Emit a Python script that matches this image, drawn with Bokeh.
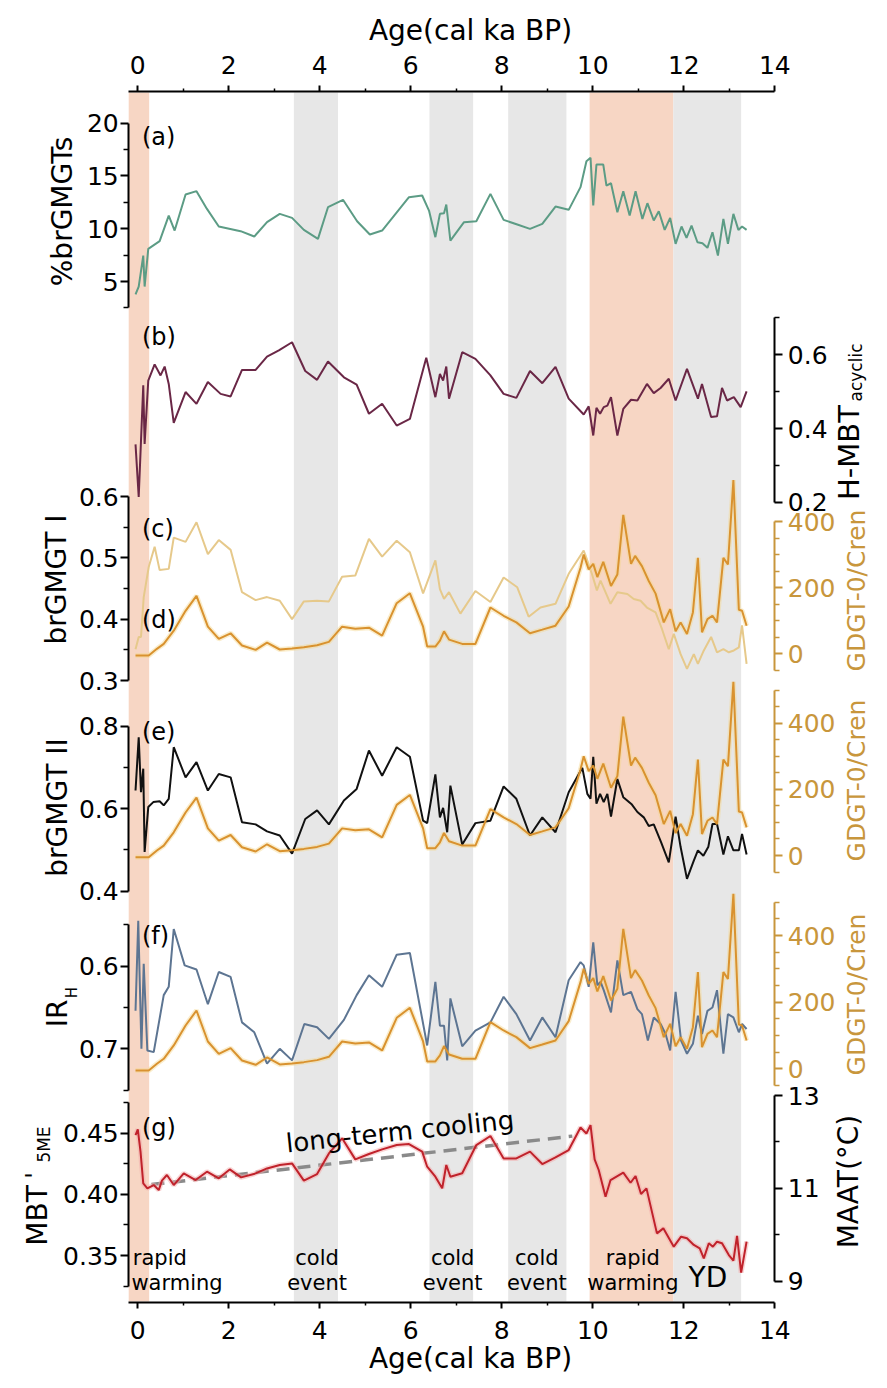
import math
from bokeh.plotting import figure
from bokeh.models import Range1d, LinearAxis, FixedTicker, BoxAnnotation, Label, PrintfTickFormatter
from bokeh.core.properties import value
from bokeh.embed import file_html
from bokeh.resources import INLINE

FONT = "DejaVu Sans"

# ---------------- data (age in cal ka BP) ----------------
age_a = [-0.05, 0.02, 0.12, 0.15, 0.23, 0.48, 0.68, 0.81, 1.05, 1.29, 1.52, 1.78, 2.26, 2.56, 2.84, 3.12,
         3.39, 3.65, 3.96, 4.18, 4.51, 4.82, 5.10, 5.37, 5.96, 6.25, 6.40, 6.54, 6.64, 6.73, 6.78, 6.87,
         7.17, 7.44, 7.75, 8.04, 8.34, 8.62, 8.89, 9.18, 9.47, 9.73, 9.86, 9.95, 10.01, 10.08, 10.23, 10.30,
         10.40, 10.54, 10.67, 10.81, 10.94, 11.09, 11.20, 11.34, 11.45, 11.58, 11.70, 11.82, 11.95, 12.06,
         12.17, 12.30, 12.41, 12.52, 12.63, 12.75, 12.87, 12.97, 13.09, 13.20, 13.28, 13.38]
pct_brgmgt = [3.77, 4.52, 7.46, 4.52, 8.09, 8.82, 11.25, 9.83, 13.24, 13.56, 11.88, 10.21, 9.77, 9.26, 10.62, 11.41,
              11.03, 9.89, 9.04, 12.04, 12.74, 10.71, 9.45, 9.83, 12.99, 13.15, 11.72, 9.20, 11.41, 11.47, 12.29, 8.88,
              10.62, 10.71, 13.30, 10.84, 10.40, 9.99, 10.46, 12.10, 11.79, 13.94, 16.40, 16.72, 12.20, 16.08, 16.08, 14.09,
              14.31, 11.57, 13.56, 11.25, 13.56, 10.93, 12.42, 10.78, 11.66, 9.89, 11.03, 8.57, 10.21, 9.13,
              10.30, 8.72, 8.63, 8.19, 9.67, 7.46, 10.93, 8.57, 11.41, 9.89, 10.21, 9.89]

age_b = [-0.05, 0.02, 0.12, 0.15, 0.23, 0.37, 0.50, 0.59, 0.68, 0.79, 1.05, 1.29, 1.54, 1.82, 2.04, 2.29,
         2.59, 2.84, 3.10, 3.39, 3.68, 3.94, 4.18, 4.53, 4.81, 5.08, 5.37, 5.69, 5.98, 6.34, 6.54, 6.64,
         6.71, 6.78, 6.84, 7.13, 7.42, 7.75, 8.04, 8.32, 8.62, 8.89, 9.18, 9.47, 9.80, 9.91, 10.01, 10.08,
         10.16, 10.24, 10.32, 10.40, 10.54, 10.67, 10.84, 10.98, 11.19, 11.34, 11.49, 11.67, 11.82, 12.07,
         12.31, 12.40, 12.60, 12.73, 12.84, 12.95, 13.10, 13.25, 13.38]
h_mbt_acyclic = [0.357, 0.214, 0.517, 0.358, 0.530, 0.574, 0.544, 0.568, 0.521, 0.415, 0.499, 0.467, 0.526, 0.494, 0.487, 0.559,
                 0.559, 0.595, 0.612, 0.634, 0.556, 0.532, 0.582, 0.539, 0.519, 0.440, 0.467, 0.408, 0.426, 0.592, 0.485, 0.548,
                 0.530, 0.568, 0.481, 0.607, 0.589, 0.544, 0.494, 0.483, 0.556, 0.523, 0.567, 0.481, 0.438, 0.460, 0.381, 0.456,
                 0.440, 0.458, 0.462, 0.485, 0.381, 0.453, 0.478, 0.476, 0.521, 0.496, 0.510, 0.535, 0.476, 0.562,
                 0.481, 0.521, 0.431, 0.433, 0.510, 0.476, 0.485, 0.458, 0.501]

age_c = [-0.05, 0.02, 0.07, 0.13, 0.24, 0.37, 0.48, 0.68, 0.79, 1.05, 1.29, 1.54, 1.78, 2.04, 2.29, 2.59,
         2.84, 3.12, 3.39, 3.65, 3.94, 4.20, 4.49, 4.78, 5.08, 5.37, 5.69, 5.98, 6.27, 6.54, 6.64, 6.73,
         6.84, 7.09, 7.42, 7.75, 8.04, 8.34, 8.59, 8.85, 9.18, 9.47, 9.80, 9.98, 10.09, 10.17, 10.39, 10.54,
         10.76, 10.90, 11.05, 11.19, 11.38, 11.52, 11.67, 11.78, 11.93, 12.07, 12.22, 12.31, 12.44, 12.60,
         12.73, 12.87, 12.99, 13.10, 13.21, 13.28, 13.38]
brgmgt_I = [0.351, 0.371, 0.371, 0.436, 0.485, 0.518, 0.480, 0.482, 0.533, 0.526, 0.558, 0.506, 0.529, 0.513, 0.444, 0.431,
            0.436, 0.430, 0.400, 0.429, 0.430, 0.429, 0.469, 0.471, 0.531, 0.502, 0.528, 0.509, 0.442, 0.496, 0.449, 0.433,
            0.444, 0.409, 0.446, 0.428, 0.468, 0.452, 0.404, 0.419, 0.425, 0.474, 0.512, 0.474, 0.447, 0.463, 0.425, 0.444,
            0.441, 0.433, 0.430, 0.419, 0.411, 0.384, 0.351, 0.376, 0.343, 0.319, 0.343, 0.327, 0.349, 0.371,
            0.346, 0.351, 0.346, 0.349, 0.354, 0.390, 0.327]

age_gdgt = [-0.05, 0.24, 0.42, 0.57, 0.79, 1.05, 1.29, 1.54, 1.78, 2.04, 2.29, 2.59, 2.84, 3.12, 3.39, 3.65,
            3.94, 4.20, 4.49, 4.78, 5.08, 5.37, 5.69, 5.98, 6.27, 6.36, 6.54, 6.64, 6.73, 6.84, 7.13, 7.42,
            7.75, 8.04, 8.32, 8.62, 8.89, 9.18, 9.47, 9.73, 9.80, 9.91, 10.01, 10.10, 10.23, 10.40, 10.54, 10.67,
            10.84, 10.93, 11.08, 11.23, 11.38, 11.56, 11.70, 11.82, 11.93, 12.07, 12.20, 12.31, 12.40, 12.52,
            12.63, 12.73, 12.87, 12.97, 13.09, 13.21, 13.28, 13.38]
gdgt0_cren = [-5, -5, 15, 30, 70, 130, 175, 82, 45, 62, 25, 12, 34, 13, 16, 20,
              26, 36, 82, 76, 79, 55, 153, 183, 82, 22, 22, 40, 68, 43, 30, 30,
              140, 115, 95, 62, 73, 85, 143, 260, 300, 255, 272, 232, 278, 205, 240, 420,
              272, 296, 265, 220, 182, 95, 135, 68, 95, 60, 125, 290, 65, 105,
              115, 95, 290, 270, 525, 133, 130, 85]

age_e = [-0.05, 0.02, 0.07, 0.12, 0.15, 0.23, 0.34, 0.48, 0.57, 0.68, 0.79, 1.05, 1.29, 1.54, 1.78, 2.04,
         2.29, 2.59, 2.84, 3.12, 3.39, 3.68, 3.94, 4.20, 4.53, 4.81, 5.08, 5.37, 5.69, 5.98, 6.27, 6.36,
         6.54, 6.64, 6.71, 6.80, 6.87, 7.13, 7.42, 7.75, 8.04, 8.32, 8.62, 8.89, 9.18, 9.47, 9.77, 9.88,
         9.95, 10.01, 10.08, 10.16, 10.24, 10.32, 10.40, 10.54, 10.67, 10.86, 10.98, 11.12, 11.23, 11.34,
         11.50, 11.67, 11.82, 11.93, 12.07, 12.22, 12.31, 12.43, 12.54, 12.63, 12.73, 12.87, 12.97, 13.09,
         13.21, 13.28, 13.38]
brgmgt_II = [0.644, 0.773, 0.640, 0.697, 0.495, 0.604, 0.616, 0.618, 0.608, 0.624, 0.749, 0.676, 0.713, 0.644, 0.684, 0.676,
             0.567, 0.562, 0.545, 0.535, 0.491, 0.575, 0.596, 0.562, 0.620, 0.648, 0.741, 0.680, 0.749, 0.726, 0.571, 0.565,
             0.683, 0.579, 0.602, 0.543, 0.656, 0.513, 0.565, 0.571, 0.654, 0.624, 0.535, 0.579, 0.543, 0.640, 0.699, 0.636,
             0.624, 0.726, 0.612, 0.636, 0.616, 0.636, 0.581, 0.672, 0.628, 0.610, 0.592, 0.579, 0.558, 0.562,
             0.519, 0.470, 0.581, 0.507, 0.430, 0.474, 0.499, 0.486, 0.508, 0.563, 0.563, 0.489, 0.533, 0.499,
             0.499, 0.539, 0.489]

age_f = [-0.05, 0.01, 0.08, 0.13, 0.21, 0.35, 0.57, 0.68, 0.79, 1.03, 1.29, 1.54, 1.78, 2.04, 2.29, 2.56,
         2.84, 3.12, 3.39, 3.66, 3.94, 4.20, 4.53, 4.81, 5.08, 5.37, 5.69, 5.98, 6.36, 6.54, 6.64, 6.73,
         6.80, 6.87, 7.13, 7.42, 7.75, 8.04, 8.32, 8.62, 8.89, 9.18, 9.47, 9.73, 9.80, 9.91, 10.01, 10.10,
         10.17, 10.24, 10.40, 10.54, 10.67, 10.84, 10.98, 11.08, 11.21, 11.34, 11.49, 11.60, 11.70, 11.82,
         11.94, 12.07, 12.20, 12.31, 12.40, 12.52, 12.63, 12.73, 12.87, 12.97, 13.09, 13.21, 13.28, 13.38]
ir_h = [0.654, 0.545, 0.700, 0.597, 0.702, 0.704, 0.635, 0.625, 0.555, 0.599, 0.604, 0.646, 0.607, 0.613, 0.668, 0.680,
        0.718, 0.700, 0.714, 0.670, 0.674, 0.688, 0.665, 0.635, 0.611, 0.625, 0.586, 0.584, 0.696, 0.619, 0.672, 0.672,
        0.714, 0.639, 0.697, 0.678, 0.668, 0.637, 0.658, 0.690, 0.662, 0.686, 0.617, 0.595, 0.599, 0.625, 0.571, 0.623,
        0.619, 0.629, 0.656, 0.593, 0.635, 0.631, 0.652, 0.658, 0.690, 0.662, 0.670, 0.682, 0.702, 0.631,
        0.690, 0.706, 0.694, 0.660, 0.682, 0.654, 0.650, 0.629, 0.706, 0.658, 0.662, 0.680, 0.670, 0.676]

age_g = [-0.05, 0.00, 0.06, 0.12, 0.21, 0.35, 0.46, 0.53, 0.64, 0.79, 1.01, 1.27, 1.52, 1.78, 2.02, 2.27,
         2.55, 2.84, 3.12, 3.39, 3.65, 3.94, 4.20, 4.49, 4.78, 5.08, 5.37, 5.69, 5.96, 6.25, 6.36, 6.54,
         6.69, 6.78, 6.87, 7.13, 7.44, 7.75, 8.04, 8.32, 8.62, 8.89, 9.18, 9.47, 9.73, 9.86, 9.95, 10.04,
         10.13, 10.28, 10.39, 10.67, 10.83, 10.94, 11.06, 11.18, 11.41, 11.55, 11.78, 11.94, 12.07, 12.22,
         12.35, 12.44, 12.55, 12.64, 12.73, 12.84, 12.99, 13.09, 13.17, 13.26, 13.38]
mbt_5me = [0.4485, 0.4531, 0.4349, 0.4090, 0.4049, 0.4076, 0.4035, 0.4112, 0.4158, 0.4076, 0.4172, 0.4117, 0.4185, 0.4131, 0.4204, 0.4139,
           0.4166, 0.4212, 0.4240, 0.4253, 0.4112, 0.4166, 0.4335, 0.4458, 0.4286, 0.4330, 0.4368, 0.4403, 0.4411, 0.4349, 0.4226, 0.4144,
           0.4049, 0.4240, 0.4144, 0.4172, 0.4403, 0.4477, 0.4294, 0.4294, 0.4349, 0.4248, 0.4302, 0.4362, 0.4547, 0.4498, 0.4566, 0.4286,
           0.4199, 0.3981, 0.4117, 0.4177, 0.4095, 0.4150, 0.4003, 0.4049, 0.3681, 0.3722, 0.3572, 0.3654, 0.3641, 0.3586,
           0.3559, 0.3477, 0.3600, 0.3572, 0.3613, 0.3600, 0.3504, 0.3458, 0.3660, 0.3360, 0.3613]

trend_age = [0.3, 9.55]
trend_mbt = [0.408, 0.4476]

band_lo = [-0.2, 3.43, 6.41, 8.14, 9.93, 11.77]
band_hi = [0.25, 4.40, 7.37, 9.42, 11.77, 13.26]
band_kind = ["warm", "cold", "cold", "cold", "warm", "cold"]

x_ticks = [0, 2, 4, 6, 8, 10, 12, 14]
x_minor = [1, 3, 5, 7, 9, 11, 13]

# ---------------- styling / layout ----------------
BAND_COLORS = {"warm": "#f7d6c4", "cold": "#e7e7e7"}
GOLD = "#c8963c"
C_A, C_B, C_C, C_D = "#5c9c85", "#6a2746", "#e6c98b", "#d9922f"
C_E, C_F, C_G = "#111111", "#5d7592", "#c0222b"

W, H = 887, 1388
X0_PX, PX_PER_KA = 137.3, 45.5   # page x of age 0, px per ka
AX_TOP, AX_BOT = 91.0, 1302.0    # page y of the top and bottom age axes


def cal_range(v1, y1, v2, y2):
    s = (v2 - v1) / (y2 - y1)
    return Range1d(start=v1 + (H - y1) * s, end=v1 + (0 - y1) * s)


p = figure(width=W, height=H,
           x_range=Range1d(-X0_PX / PX_PER_KA, (W - X0_PX) / PX_PER_KA),
           y_range=Range1d(start=H, end=0),
           output_backend="svg", toolbar_location=None, x_axis_location=None, y_axis_location=None,
           min_border=0, min_border_left=0, min_border_right=0, min_border_top=0, min_border_bottom=0)
p.center = []
p.outline_line_color = None
p.background_fill_color = "white"
p.border_fill_color = "white"

p.extra_x_ranges = {"px": Range1d(0, W)}
p.extra_y_ranges = {
    "a": cal_range(20, 122.7, 5, 281.0),
    "b": cal_range(0.6, 354.3, 0.2, 501.7),
    "c": cal_range(0.6, 496.0, 0.3, 680.0),
    "d": cal_range(400, 521.0, 0, 653.3),
    "e": cal_range(0.8, 725.7, 0.4, 890.7),
    "eg": cal_range(400, 722.7, 0, 855.0),
    "f": cal_range(0.6, 965.7, 0.7, 1048.3),
    "fg": cal_range(400, 935.0, 0, 1068.3),
    "g": cal_range(0.45, 1132.7, 0.35, 1255.0),
    "maat": cal_range(13, 1095.0, 9, 1280.7),
}

for lo, hi, kind in zip(band_lo, band_hi, band_kind):
    p.add_layout(BoxAnnotation(left=lo, right=hi, top=AX_TOP + 1, bottom=AX_BOT - 1,
                               fill_color=BAND_COLORS[kind], fill_alpha=1.0,
                               line_color=None, level="underlay"))


def style_axis(ax, color="black", size="25px", tick_out=8, minor_out=5, standoff=3):
    ax.axis_line_color = color
    ax.axis_line_width = 2
    ax.major_tick_line_color = color
    ax.major_tick_line_width = 2
    ax.minor_tick_line_color = color
    ax.minor_tick_line_width = 1.5
    ax.major_tick_in = 0
    ax.minor_tick_in = 0
    ax.major_tick_out = tick_out
    ax.minor_tick_out = minor_out
    ax.major_label_text_color = color
    ax.major_label_text_font = FONT
    ax.major_label_text_font_size = size
    ax.major_label_standoff = standoff


def add_yaxis(side, rname, bounds, ticks, minor, color="black", fmt=None, standoff=2):
    ax = LinearAxis(y_range_name=rname, fixed_location=(-0.2 if side == "left" else 14.0),
                    bounds=bounds, ticker=FixedTicker(ticks=ticks, minor_ticks=minor))
    if fmt is not None:
        ax.formatter = PrintfTickFormatter(format=fmt)
    style_axis(ax, color=color, standoff=standoff)
    p.add_layout(ax, side)
    return ax


# age axes, top and bottom
for side, loc, so in (("above", AX_TOP, 12), ("below", AX_BOT, 12)):
    ax = LinearAxis(ticker=FixedTicker(ticks=x_ticks, minor_ticks=x_minor), fixed_location=loc,
                    bounds=(-0.2, 14))
    style_axis(ax, tick_out=6, minor_out=3, standoff=so)
    p.add_layout(ax, side)

gd_minor = [-50, 50, 100, 150, 250, 300, 350, 450, 500]
add_yaxis("left", "a", (2.5, 20), [5, 10, 15, 20], [2.5, 7.5, 12.5, 17.5])
add_yaxis("right", "b", (0.2, 0.7), [0.2, 0.4, 0.6], [0.3, 0.5, 0.7], standoff=5)
add_yaxis("left", "c", (0.3, 0.6), [0.3, 0.4, 0.5, 0.6], [0.35, 0.45, 0.55])
add_yaxis("right", "d", (-50, 400), [0, 200, 400], gd_minor[:7], color=GOLD, standoff=5)
add_yaxis("left", "e", (0.4, 0.8), [0.4, 0.6, 0.8], [0.5, 0.7])
add_yaxis("right", "eg", (-50, 500), [0, 200, 400], gd_minor, color=GOLD, standoff=5)
add_yaxis("left", "f", (0.55, 0.75), [0.6, 0.7], [0.55, 0.65, 0.75])
add_yaxis("right", "fg", (-50, 500), [0, 200, 400], gd_minor, color=GOLD, standoff=5)
add_yaxis("left", "g", (0.325, 0.475), [0.35, 0.40, 0.45], [0.325, 0.375, 0.425, 0.475], fmt="%.2f")
add_yaxis("right", "maat", (9, 13), [9, 11, 13], [10, 12], standoff=5)

# ---------------- series ----------------
p.line(age_a, pct_brgmgt, y_range_name="a", line_color=C_A, line_width=2)
p.line(age_b, h_mbt_acyclic, y_range_name="b", line_color=C_B, line_width=2)
p.line(age_c, brgmgt_I, y_range_name="c", line_color=C_C, line_width=2)
for rn in ("d", "eg", "fg"):
    p.line(age_gdgt, gdgt0_cren, y_range_name=rn, line_color="#f4d88e", line_width=5, line_alpha=0.45)
p.line(age_gdgt, gdgt0_cren, y_range_name="d", line_color=C_D, line_width=2)
p.line(age_e, brgmgt_II, y_range_name="e", line_color=C_E, line_width=2)
p.line(age_gdgt, gdgt0_cren, y_range_name="eg", line_color=C_D, line_width=2)
p.line(age_f, ir_h, y_range_name="f", line_color=C_F, line_width=2)
p.line(age_gdgt, gdgt0_cren, y_range_name="fg", line_color=C_D, line_width=2)
p.line(trend_age, trend_mbt, y_range_name="g", line_color="#8a8a8a", line_width=3.5, line_dash="13 8")
p.line(age_g, mbt_5me, y_range_name="g", line_color="#f4a9a9", line_width=5, line_alpha=0.5)
p.line(age_g, mbt_5me, y_range_name="g", line_color=C_G, line_width=2)

# ---------------- panel letters ----------------
panel_letters = [("(a)", "a", 18.67), ("(b)", "b", 0.648), ("(c)", "c", 0.547), ("(d)", "c", 0.398),
                 ("(e)", "e", 0.785), ("(f)", "f", 0.564), ("(g)", "g", 0.4539)]
for txt, rn, yv in panel_letters:
    p.text(x=[0.09], y=[yv], text=[txt], y_range_name=rn, text_font=value(FONT), text_font_size="24px",
           text_align="left", text_baseline="middle", text_color="black")

# ---------------- annotations in panel (g) ----------------
ann = [
    ("rapid", -0.11, 0.3481, "left"), ("warming", -0.14, 0.3277, "left"),
    ("cold", 3.94, 0.3481, "center"), ("event", 3.94, 0.3277, "center"),
    ("cold", 6.92, 0.3481, "center"), ("event", 6.92, 0.3277, "center"),
    ("cold", 8.77, 0.3481, "center"), ("event", 8.77, 0.3277, "center"),
    ("rapid", 10.88, 0.3481, "center"), ("warming", 10.88, 0.3277, "center"),
]
for txt, xv, yv, al in ann:
    p.text(x=[xv], y=[yv], text=[txt], y_range_name="g", text_font=value(FONT), text_font_size="21px",
           text_align=al, text_baseline="middle", text_color="black")
p.text(x=[12.53], y=[0.3322], text=["YD"], y_range_name="g", text_font=value(FONT), text_font_size="28px",
       text_align="center", text_baseline="middle", text_color="black")
p.text(x=[3.26], y=[0.4416], text=["long-term cooling"], y_range_name="g", text_font=value(FONT),
       text_font_size="26px", text_align="left", text_baseline="alphabetic", angle=math.radians(6.0),
       text_color="black")

# ---------------- axis titles (placed in page px) ----------------
titles = [
    ("Age(cal ka BP)", 470, 30, 28, "black", 0.0),
    ("Age(cal ka BP)", 470, 1358, 28, "black", 0.0),
    ("%brGMGTs", 62, 211, 28, "black", math.pi / 2),
    ("H-MBT", 848, 452, 29, "black", math.pi / 2),
    ("acyclic", 855, 372, 17, "black", math.pi / 2),
    ("brGMGT I", 56, 579, 28, "black", math.pi / 2),
    ("GDGT-0/Cren", 856, 590, 25, GOLD, math.pi / 2),
    ("brGMGT II", 57, 807, 28, "black", math.pi / 2),
    ("GDGT-0/Cren", 856, 780, 25, GOLD, math.pi / 2),
    ("IR", 57, 1013, 28, "black", math.pi / 2),
    ("H", 71, 992, 15, "black", math.pi / 2),
    ("GDGT-0/Cren", 856, 994, 25, GOLD, math.pi / 2),
    ("MBT", 37, 1215, 28, "black", math.pi / 2),
    ("'", 34, 1175, 24, "black", math.pi / 2),
    ("5ME", 43, 1144, 17, "black", math.pi / 2),
    ("MAAT(°C)", 848, 1181, 28, "black", math.pi / 2),
]
for txt, xp, yp, fs, col, ang in titles:
    p.add_layout(Label(x=xp, y=yp, x_range_name="px", text=txt, angle=ang, text_align="center",
                       text_baseline="middle", text_font=FONT, text_font_size=f"{fs}px", text_color=col))

open("out.html", "w").write(file_html(p, INLINE))
